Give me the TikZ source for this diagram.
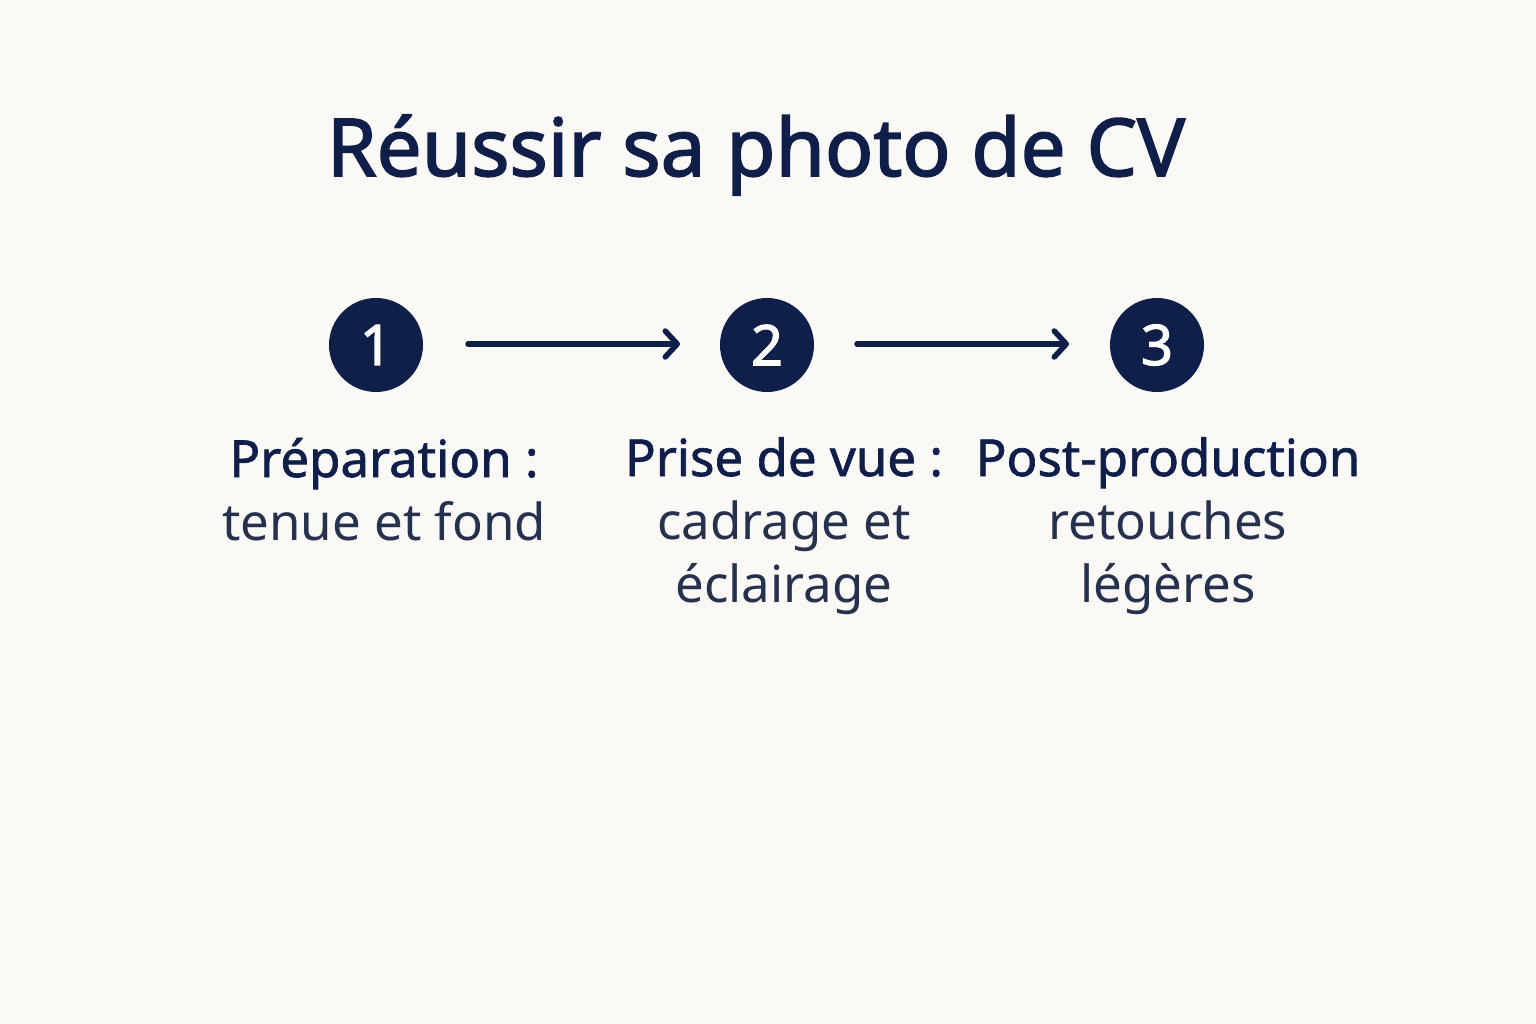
\documentclass[tikz,border=0pt]{standalone}
\usepackage{fontspec}
\setmainfont{Noto Sans}
\newfontfamily\medfont{Noto Sans}[FakeBold=2]
\newfontfamily\semifont{Noto Sans}[FakeBold=1.3]
\usetikzlibrary{arrows.meta}
\definecolor{bg}{HTML}{FAF9F6}
\definecolor{navy}{HTML}{0F1F4A}
\definecolor{txt}{HTML}{26324D}
\tikzset{
  stepnum/.style={circle,fill=navy,minimum size=94pt,inner sep=0pt,text=white,font=\fontsize{56}{56}\medfont},
  steplabel/.style={align=center,anchor=base,text=txt,font=\fontsize{51}{63}\selectfont},
  flow/.style={draw=navy,line width=5.5pt,line cap=round,-{Straight Barb[length=12pt,width=26pt,line cap=round,line join=round]}}
}
\begin{document}
\begin{tikzpicture}[x=1pt,y=-1pt]
\fill[bg] (0,0) rectangle (1536,1024);
\useasboundingbox (0,0) rectangle (1536,1024);
\node[anchor=base,text=navy,font=\fontsize{80}{80}\medfont] (title) at (756,176) {Réussir sa photo de CV};
\node[stepnum] (s1) at (376,345) {1};
\node[stepnum] (s2) at (767,345) {2};
\node[stepnum] (s3) at (1157,345) {3};
\coordinate (a1s) at (468,344); \coordinate (a1e) at (680,344);
\coordinate (a2s) at (857,344); \coordinate (a2e) at (1069,344);
\draw[flow] (a1s) -- (a1e);
\draw[flow] (a2s) -- (a2e);
\node[steplabel] (l1) at (384,540) {{\color{navy}\semifont Préparation :}\\tenue et fond};
\node[steplabel] (l2) at (784,602) {{\color{navy}\semifont Prise de vue :}\\cadrage et\\éclairage};
\node[steplabel] (l3) at (1168,602) {{\color{navy}\semifont Post-production}\\retouches\\légères};
\end{tikzpicture}
\end{document}
